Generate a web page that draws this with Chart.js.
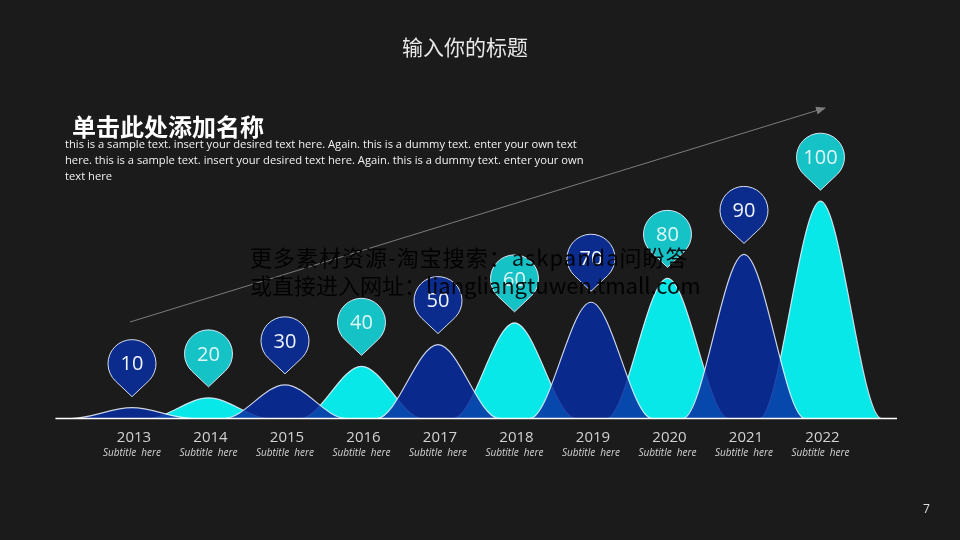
<!DOCTYPE html>
<html>
<head>
<meta charset="utf-8">
<script src="https://cdn.jsdelivr.net/npm/chart.js@4.4.1/dist/chart.umd.min.js"></script>
<style>
    html, body { margin: 0; padding: 0; width: 960px; height: 540px; overflow: hidden; background: #1b1b1b; }
    #wrap { position: relative; width: 960px; height: 540px; }
    #chart { position: absolute; left: 0; top: 0; }
    #arrow { position: absolute; left: 0; top: 0; }
    .title { position: absolute; left: 0; width: 930px; top: 31px; text-align: center; font: 21px "Noto Sans CJK SC"; color: #e8e8e8; }
    .heading { position: absolute; left: 72px; top: 108px; font: bold 24px "Noto Sans CJK SC"; color: #ffffff; }
    .para { position: absolute; left: 65px; top: 136px; font: 11.2px "Open Sans"; line-height: 16px; color: #f2f2f2; white-space: nowrap; }
    .watermark { position: absolute; left: 250px; top: 242px; font: 22px "Noto Sans CJK SC"; line-height: 28px; color: rgba(0, 0, 0, 0.92); white-space: nowrap; }
    .watermark span { letter-spacing: 1px; }
    .page { position: absolute; left: 923px; top: 500px; font: 12px "Open Sans"; color: #e0e0e0; }
</style>
</head>
<body>
<div id="wrap">
    <svg id="arrow" width="960" height="540">
        <defs>
            <marker id="head" markerWidth="10" markerHeight="8" refX="9" refY="4" orient="auto" markerUnits="userSpaceOnUse">
                <path d="M0,0 L10,4 L0,8 z" fill="#7c7c7c"/>
            </marker>
        </defs>
        <line x1="130" y1="322" x2="825" y2="108" stroke="#7c7c7c" stroke-width="1" marker-end="url(#head)"/>
    </svg>
    <canvas id="chart" width="960" height="540"></canvas>
    <div class="title">输入你的标题</div>
    <div class="heading">单击此处添加名称</div>
    <div class="para">this is a sample text. insert your desired text here. Again. this is a dummy text. enter your own text<br>here. this is a sample text. insert your desired text here. Again. this is a dummy text. enter your own<br>text here</div>
    <div class="watermark"><span>更多素材资源-淘宝搜索：askpanda问盼答</span><br>或直接进入网址：liangliangtuwen.tmall.com</div>
    <div class="page">7</div>
</div>
<script>
const years = ['2013', '2014', '2015', '2016', '2017', '2018', '2019', '2020', '2021', '2022'];
const values = [10, 20, 30, 40, 50, 60, 70, 80, 90, 100];
// peak heights of the hills as drawn (not proportional to the pin values)
const peaks = [5, 9.5, 15.5, 24, 34, 44, 53.5, 64.5, 75.5, 100];
const subtitle = 'Subtitle  here';

const BLUE = 'rgba(6, 44, 160, 0.85)';
const CYAN = '#08e8e8';
const HALF = 0.8; // hill half width in category units

// one dataset per colour: hills alternate blue / cyan
function hillPoints(parity) {
    const pts = [{ x: -1, y: 0 }];
    years.forEach((yr, i) => {
        if (i % 2 !== parity) return;
        pts.push({ x: i - HALF, y: 0 }, { x: i, y: peaks[i] }, { x: i + HALF, y: 0 });
    });
    pts.push({ x: 10, y: 0 });
    return pts;
}

const pinPlugin = {
    id: 'pins',
    afterDatasetsDraw(chart) {
        const { ctx, scales, chartArea } = chart;
        ctx.save();
        values.forEach((v, i) => {
            const x = scales.x.getPixelForValue(i);
            const cy = scales.y.getPixelForValue(peaks[i]) - 44;
            const r = 24, tip = 33;
            const a = Math.acos(r / tip);
            ctx.beginPath();
            ctx.arc(x, cy, r, Math.PI / 2 + a, Math.PI / 2 - a + Math.PI * 2);
            ctx.lineTo(x, cy + tip);
            ctx.closePath();
            ctx.fillStyle = i % 2 === 0 ? '#0b2c8c' : '#15c2c6';
            ctx.fill();
            ctx.lineWidth = 1;
            ctx.strokeStyle = 'rgba(235, 242, 255, 0.9)';
            ctx.stroke();
            ctx.fillStyle = i % 2 === 0 ? '#f0f4ff' : '#dff7f7';
            ctx.font = '20px "Open Sans"';
            ctx.textAlign = 'center';
            ctx.textBaseline = 'middle';
            ctx.fillText(String(v), x, cy + 1);

            // subtitle under each year label
            ctx.fillStyle = '#d2d2d2';
            ctx.font = 'italic 10px "Open Sans"';
            ctx.fillText(subtitle, x, chartArea.bottom + 35);
        });
        // baseline
        ctx.beginPath();
        ctx.moveTo(chartArea.left, chartArea.bottom);
        ctx.lineTo(chartArea.right, chartArea.bottom);
        ctx.strokeStyle = '#ffffff';
        ctx.lineWidth = 1.5;
        ctx.stroke();
        ctx.restore();
    }
};

new Chart(document.getElementById('chart'), {
    type: 'line',
    data: {
        datasets: [
            {
                data: hillPoints(0),
                backgroundColor: BLUE,
                borderColor: 'rgba(235, 242, 255, 0.85)',
                borderWidth: 1.2,
                fill: 'origin',
                pointRadius: 0,
                cubicInterpolationMode: 'monotone',
                order: 0
            },
            {
                data: hillPoints(1),
                backgroundColor: CYAN,
                borderColor: 'rgba(235, 242, 255, 0.85)',
                borderWidth: 1.2,
                fill: 'origin',
                pointRadius: 0,
                cubicInterpolationMode: 'monotone',
                order: 1
            }
        ]
    },
    options: {
        responsive: false,
        animation: false,
        layout: { padding: { left: 55.5, right: 63, top: 92.5, bottom: 83.5 } },
        plugins: { legend: { display: false }, tooltip: { enabled: false } },
        scales: {
            x: {
                type: 'linear',
                min: -1,
                max: 10,
                grid: { display: false, drawTicks: false },
                border: { display: false },
                afterBuildTicks: (s) => { s.ticks = years.map((_, i) => ({ value: i })); },
                ticks: {
                    callback: v => years[v],
                    color: '#d2d2d2',
                    font: { family: 'Open Sans', size: 15 },
                    padding: 10,
                    labelOffset: 2,
                    maxRotation: 0,
                    autoSkip: false
                }
            },
            y: { display: false, min: 0, max: 150 }
        }
    },
    plugins: [pinPlugin]
});
</script>
</body>
</html>
